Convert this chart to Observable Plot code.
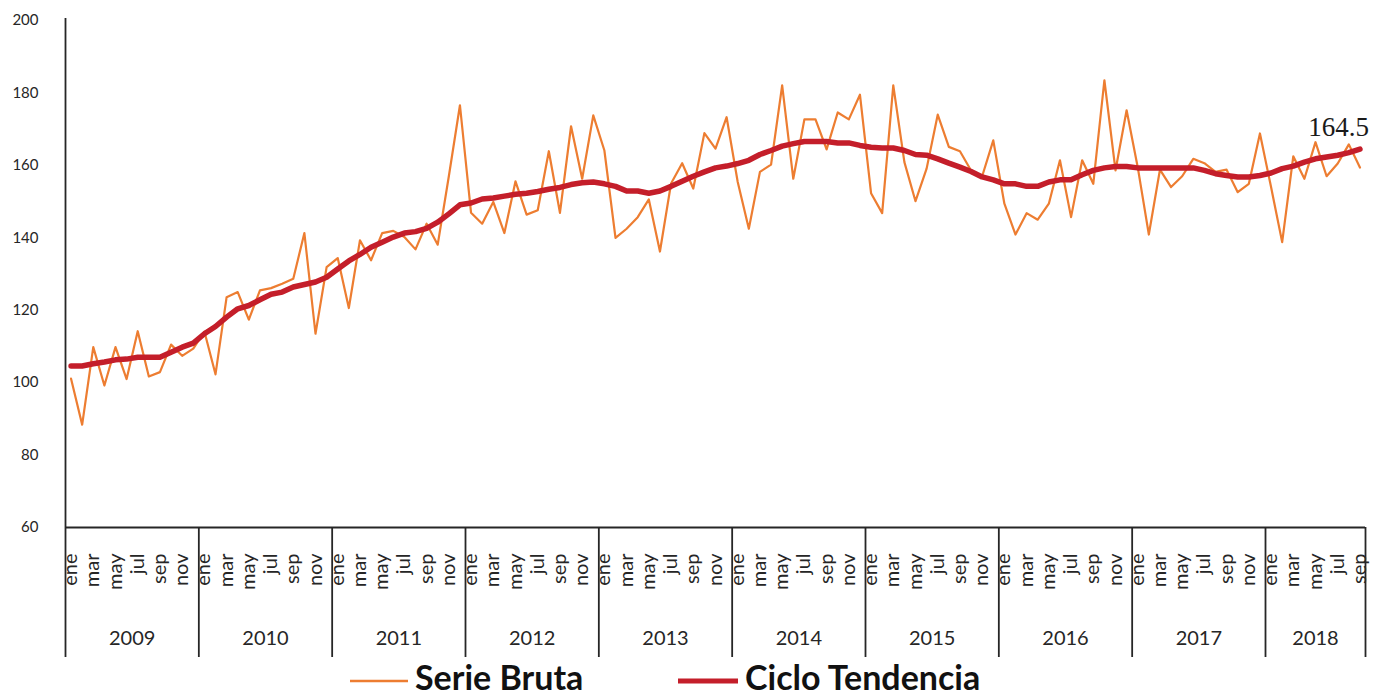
<!DOCTYPE html>
<html><head><meta charset="utf-8">
<script src="https://cdn.jsdelivr.net/npm/d3@7"></script>
<script src="https://cdn.jsdelivr.net/npm/@observablehq/plot@0.6"></script>
<style>
html,body{margin:0;padding:0;background:#fff;}
#wrap{position:relative;width:1373px;height:697px;overflow:hidden;font-family:Lato,sans-serif;}
#chart svg{display:block;}
.sw{position:absolute;top:672px;height:18px;}
.lab{position:absolute;top:660px;font-weight:bold;font-size:34px;line-height:34px;height:34px;color:#111;white-space:nowrap;}
</style></head>
<body>
<div id="wrap"><div id="chart"></div><div id="legend"></div></div>
<script>
const years = [2009, 2010, 2011, 2012, 2013, 2014, 2015, 2016, 2017, 2018];
const monthNames = ["ene","feb","mar","abr","may","jun","jul","ago","sep","oct","nov","dic"];
const yTicks = [60, 80, 100, 120, 140, 160, 180, 200];

const serieBruta = [
  101.1, 88.4, 109.8, 99.2, 109.8, 101.0, 114.2, 101.7, 102.9, 110.5, 107.4, 109.4,
  114.1, 102.3, 123.6, 125.0, 117.4, 125.5, 126.1, 127.3, 128.7, 141.3, 113.5, 131.9,
  134.4, 120.6, 139.3, 133.8, 141.3, 141.9, 140.2, 136.8, 143.9, 138.1, 157.0, 176.6,
  146.9, 143.9, 149.9, 141.3, 155.6, 146.4, 147.6, 163.9, 146.9, 170.8, 156.3, 173.8,
  164.1, 140.0, 142.5, 145.7, 150.6, 136.2, 155.0, 160.6, 153.6, 168.9, 164.6, 173.3,
  155.4, 142.5, 158.2, 160.2, 182.1, 156.3, 172.7, 172.7, 164.4, 174.6, 172.7, 179.5,
  152.3, 146.8, 182.1, 160.9, 150.1, 159.1, 174.0, 165.1, 163.9, 158.6, 157.0, 166.9,
  149.4, 140.9, 146.8, 145.0, 149.4, 161.4, 145.7, 161.4, 154.9, 183.5, 158.6, 175.2,
  159.5, 140.9, 158.8, 154.0, 157.0, 161.8, 160.6, 158.2, 158.8, 152.6, 154.9, 168.8,
  154.0, 138.8, 162.5, 156.3, 166.4, 157.0, 160.5, 165.8, 159.4
];

const cicloTendencia = [
  104.6, 104.6, 105.2, 105.7, 106.3, 106.5, 107.0, 107.0, 107.0, 108.4, 109.8, 110.9,
  113.5, 115.5, 118.1, 120.4, 121.3, 122.9, 124.4, 125.0, 126.4, 127.1, 127.8, 129.1,
  131.4, 133.6, 135.4, 137.4, 138.8, 140.2, 141.3, 141.7, 142.6, 144.3, 146.6, 149.1,
  149.6, 150.7, 151.0, 151.5, 152.0, 152.3, 152.8, 153.4, 153.9, 154.7, 155.2, 155.4,
  154.9, 154.2, 152.9, 152.9, 152.3, 152.9, 154.2, 155.6, 157.0, 158.2, 159.3, 159.8,
  160.5, 161.4, 163.0, 164.1, 165.3, 166.0, 166.6, 166.6, 166.6, 166.2, 166.2, 165.5,
  165.0, 164.8, 164.8, 164.1, 163.0, 162.8, 161.8, 160.6, 159.5, 158.3, 156.8, 156.0,
  154.9, 154.9, 154.2, 154.2, 155.4, 156.0, 156.0, 157.4, 158.6, 159.3, 159.7, 159.7,
  159.3, 159.3, 159.3, 159.3, 159.3, 159.3, 158.6, 157.7, 157.2, 156.8, 156.8, 157.2,
  157.9, 159.1, 159.8, 160.9, 161.8, 162.3, 162.8, 163.5, 164.5
];

const seriesNames = ["Serie Bruta", "Ciclo Tendencia"];
const colors = ["#ED7D31", "#C41E2A"];

const n = serieBruta.length;
const data = serieBruta.map((v, i) => ({
  i, year: years[Math.floor(i / 12)], month: monthNames[i % 12], bruta: v, tend: cicloTendencia[i]
}));
const monthTicks = data.filter(d => (d.i % 12) % 2 === 0);
const yearSpans = years.map((y, k) => ({ year: y, start: k * 12 - 0.5, end: Math.min(k * 12 + 11.5, n - 0.5) }));
const boundaries = [...yearSpans.map(d => d.start).slice(1), n - 0.5];
const last = data[n - 1];
const axisColor = "#262626";

const chart = Plot.plot({
  width: 1373, height: 668,
  marginLeft: 65, marginRight: 8, marginTop: 20, marginBottom: 141,
  style: { fontFamily: "Lato, sans-serif", background: "#fff", color: axisColor },
  x: { type: "linear", domain: [-0.5, n - 0.5], axis: null },
  y: { domain: [60, 200], label: null },
  marks: [
    Plot.axisY({ ticks: yTicks, tickSize: 0, tickPadding: 27, fontSize: 15, label: null }),
    Plot.ruleY([60], { stroke: axisColor, strokeWidth: 1.8 }),
    Plot.ruleX([-0.5], { stroke: axisColor, strokeWidth: 1.8, insetTop: -2, insetBottom: -130 }),
    Plot.ruleX(boundaries, { stroke: axisColor, strokeWidth: 1.8, insetTop: 507, insetBottom: -130 }),
    Plot.text(monthTicks, { x: "i", text: "month", frameAnchor: "bottom", dx: 6, dy: 26, rotate: -90, textAnchor: "end", fontSize: 20, fill: axisColor }),
    Plot.text(yearSpans, { x: d => (d.start + d.end) / 2, text: d => String(d.year), frameAnchor: "bottom", dy: 117, fontSize: 20, fill: axisColor }),
    Plot.line(data, { x: "i", y: "bruta", stroke: colors[0], strokeWidth: 2.2 }),
    Plot.line(data, { x: "i", y: "tend", stroke: colors[1], strokeWidth: 5.5, strokeLinejoin: "round", strokeLinecap: "round" }),
    Plot.text([last], { x: "i", y: "tend", text: d => d3.format(".1f")(d.tend), textAnchor: "end", lineAnchor: "bottom", dx: 9, dy: -13, fontFamily: "Liberation Serif, serif", fontSize: 27, fill: "#1a1a1a" })
  ]
});
document.getElementById("chart").appendChild(chart);

const legend = document.getElementById("legend");
const legendSpecs = [
  { name: seriesNames[0], color: colors[0], width: 2.5, left: 350, len: 58 },
  { name: seriesNames[1], color: colors[1], width: 5, left: 678, len: 60 }
];
for (const s of legendSpecs) {
  const sw = document.createElement("div");
  sw.className = "sw";
  sw.style.left = s.left + "px";
  sw.innerHTML = `<svg width="${s.len}" height="18" style="display:block"><line x1="0" x2="${s.len}" y1="9" y2="9" stroke="${s.color}" stroke-width="${s.width}"/></svg>`;
  legend.appendChild(sw);
  const lab = document.createElement("div");
  lab.className = "lab";
  lab.style.left = (s.left + s.len + 7) + "px";
  lab.textContent = s.name;
  legend.appendChild(lab);
}
</script>
</body></html>
